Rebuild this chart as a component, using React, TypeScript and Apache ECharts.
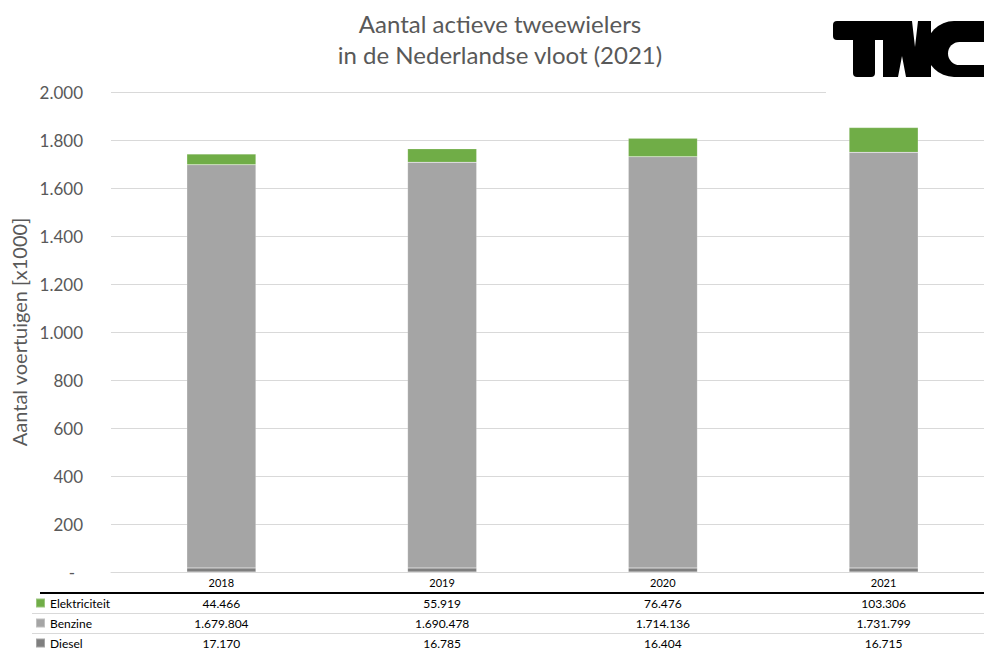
import React, { useEffect, useRef } from "react";
import * as echarts from "echarts";

// Vehicle counts per fuel type (absolute numbers); the chart plots them in thousands.
const years = ["2018", "2019", "2020", "2021"];
const elektriciteit = [44466, 55919, 76476, 103306];
const benzine = [1679804, 1690478, 1714136, 1731799];
const diesel = [17170, 16785, 16404, 16715];

const seriesNames = ["Elektriciteit", "Benzine", "Diesel"];
const colors = { Elektriciteit: "#70ad47", Benzine: "#a5a5a5", Diesel: "#7f7f7f" };

const FONT = "Lato, 'Noto Sans', sans-serif";

// Dutch thousands separator: 1679804 -> "1.679.804"
const nl = (n: number) => String(Math.round(n)).replace(/\B(?=(\d{3})+(?!\d))/g, ".");

// One extra category axis per table row, carrying that row's values under each year.
const rowAxis = (values: number[], centerY: number) => ({
  type: "category",
  data: years,
  gridIndex: 0,
  position: "bottom",
  offset: centerY - 572,
  axisLine: { show: false },
  axisTick: { show: false },
  splitLine: { show: false },
  axisLabel: {
    margin: 0,
    verticalAlign: "middle",
    fontSize: 12,
    fontFamily: FONT,
    color: "#000",
    formatter: (_v: string, i: number) => nl(values[i]),
  },
});

export default function App() {
  const ref = useRef<HTMLDivElement>(null);

  useEffect(() => {
    if (!ref.current) return;
    const chart = echarts.init(ref.current, null, { renderer: "svg" });

    const option: any = {
      animation: false,
      backgroundColor: "#ffffff",
      title: {
        text: "Aantal actieve tweewielers\nin de Nederlandse vloot (2021)",
        left: 500,
        top: 8,
        padding: 0,
        textAlign: "center",
        textStyle: {
          fontFamily: FONT,
          fontSize: 24,
          fontWeight: "normal",
          color: "#595959",
          lineHeight: 31,
        },
      },
      legend: {
        data: seriesNames,
        orient: "vertical",
        left: 35,
        top: 597,
        padding: 0,
        itemWidth: 9,
        itemHeight: 9,
        itemGap: 8,
        icon: "rect",
        selectedMode: false,
        textStyle: { fontFamily: FONT, fontSize: 12, color: "#000", lineHeight: 12 },
      },
      grid: { left: 111, top: 92, right: 0, height: 480, containLabel: false },
      xAxis: [
        {
          type: "category",
          data: years,
          axisLine: { show: true, lineStyle: { color: "#d9d9d9", width: 1 } },
          axisTick: { show: false },
          axisLabel: { margin: 5, fontSize: 11, fontFamily: FONT, color: "#000" },
        },
        rowAxis(elektriciteit, 603),
        rowAxis(benzine, 623),
        rowAxis(diesel, 643),
      ],
      yAxis: {
        type: "value",
        min: 0,
        max: 2000,
        interval: 200,
        name: "Aantal voertuigen [x1000]",
        nameLocation: "middle",
        nameGap: 72,
        nameTextStyle: { fontFamily: FONT, fontSize: 20, color: "#595959" },
        axisLine: { show: false },
        axisTick: { show: false },
        splitLine: { lineStyle: { color: "#d9d9d9", width: 1 } },
        axisLabel: {
          margin: 28,
          fontSize: 17,
          fontFamily: FONT,
          color: "#595959",
          formatter: (v: number) => (v === 0 ? "{z|-}" : nl(v)),
          rich: { z: { fontSize: 17, fontFamily: FONT, color: "#595959", padding: [0, 8, 0, 0] } },
        },
      },
      series: [
        { name: "Diesel", data: diesel },
        { name: "Benzine", data: benzine },
        { name: "Elektriciteit", data: elektriciteit },
      ].map((s) => ({
        name: s.name,
        type: "bar",
        stack: "total",
        barWidth: "31.3%",
        data: s.data.map((v) => v / 1000),
        itemStyle: {
          color: (colors as any)[s.name],
          borderColor: "rgba(255,255,255,0.3)",
          borderWidth: 0.5,
        },
      })),
      graphic: [
        // data table rules
        { type: "line", z: 50, shape: { x1: 40, y1: 593, x2: 994, y2: 593 }, style: { stroke: "#000", lineWidth: 2 } },
        { type: "line", z: 50, shape: { x1: 32, y1: 613.5, x2: 994, y2: 613.5 }, style: { stroke: "#d9d9d9", lineWidth: 1 } },
        { type: "line", z: 50, shape: { x1: 32, y1: 633.5, x2: 994, y2: 633.5 }, style: { stroke: "#d9d9d9", lineWidth: 1 } },
        // TNO logo on its white backing
        { type: "rect", z: 100, shape: { x: 826, y: 0, width: 170, height: 94 }, style: { fill: "#ffffff" } },
        { type: "rect", z: 101, shape: { x: 833, y: 21, width: 54, height: 19, r: 4 }, style: { fill: "#000" } },
        { type: "rect", z: 101, shape: { x: 853, y: 21, width: 22, height: 56, r: 4 }, style: { fill: "#000" } },
        {
          type: "polygon",
          z: 101,
          shape: {
            points: [
              [883, 21], [912, 21], [915, 47], [918, 21], [931, 21], [931, 77],
              [906, 77], [902, 56], [898, 77], [883, 77],
            ],
          },
          style: { fill: "#000" },
        },
        { type: "rect", z: 101, shape: { x: 926, y: 21, width: 84, height: 56, r: 28 }, style: { fill: "#000" } },
        { type: "rect", z: 102, shape: { x: 948, y: 42, width: 50, height: 23, r: 11.5 }, style: { fill: "#ffffff" } },
      ],
    };

    chart.setOption(option);
    return () => chart.dispose();
  }, []);

  return (
    <div
      style={{
        position: "fixed",
        left: 0,
        top: 0,
        width: 984,
        height: 650,
        overflow: "hidden",
        background: "#fff",
      }}
    >
      <div ref={ref} style={{ width: 994, height: 650 }} />
    </div>
  );
}
